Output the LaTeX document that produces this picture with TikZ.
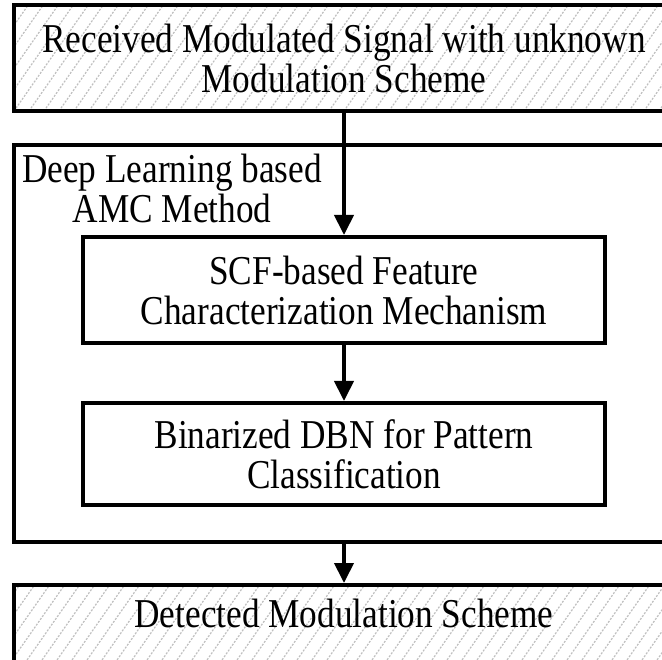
\documentclass[tikz,border=0pt]{standalone}
\usepackage{fontspec}
\setmainfont{Liberation Serif}[FakeStretch=0.86]
\usetikzlibrary{arrows.meta}
\begin{document}
\begin{tikzpicture}[x=1pt,y=-1pt,
  txt/.style={font=\fontsize{41}{40}\selectfont, align=center, inner sep=0pt},
  box/.style={draw=black, line width=4pt, rectangle, inner sep=0pt, txt},
  hatchline/.style={gray!50, line width=1.2pt, dash pattern=on 2pt off 1.5pt},
  hatched/.style={path picture={\foreach \i in {-10,...,50}{\draw[hatchline] ([xshift=\i*15pt]path picture bounding box.south west) -- ++(55:260pt);}}},
  flow/.style={line width=4pt, -{Triangle[length=20pt,width=19pt]}},
]
\useasboundingbox (0,0) rectangle (662,660);
\clip (0,0) rectangle (662,660);
\fill[white] (0,0) rectangle (662,660);

\node[box, hatched, minimum width=660pt, minimum height=106pt] (top) at (344,58)
  {Received Modulated Signal with unknown\\Modulation Scheme};
\node[box, minimum width=660pt, minimum height=397pt] (outer) at (344,343.5) {};
\node[txt] (dllabel) at (172,188) {Deep Learning based\\AMC Method};
\node[box, minimum width=522pt, minimum height=106pt] (scf) at (344,290)
  {SCF-based Feature\\Characterization Mechanism};
\node[box, minimum width=522pt, minimum height=102pt] (bin) at (344,454)
  {Binarized DBN for Pattern\\Classification};
\node[box, hatched, minimum width=660pt, minimum height=115pt] (bottom) at (344,642.5) {};
\node[txt] (detected) at (344,613) {Detected Modulation Scheme};

\draw[flow] (top.south) -- (scf.north);
\draw[flow] (scf.south) -- (bin.north);
\draw[flow] (outer.south) -- (bottom.north);
\end{tikzpicture}
\end{document}
